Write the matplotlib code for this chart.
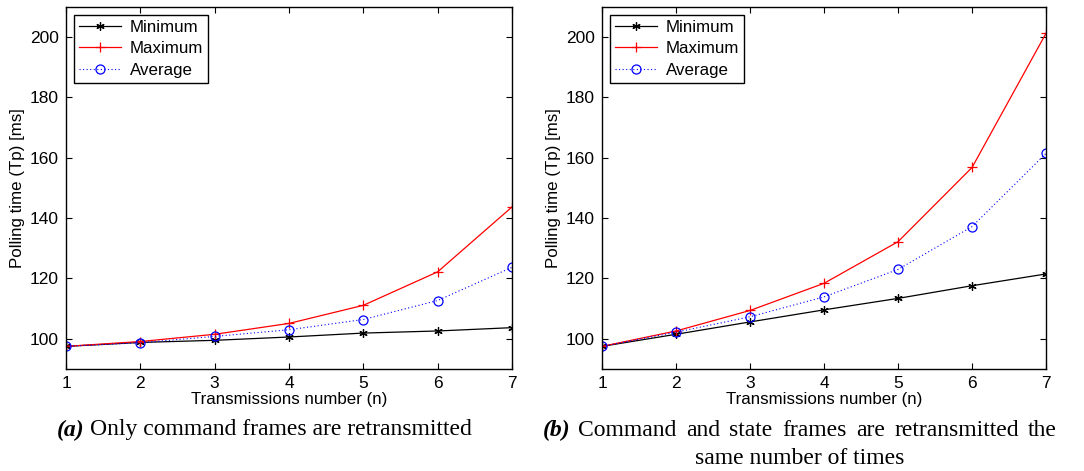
import matplotlib
matplotlib.use("Agg")
import matplotlib.pyplot as plt

# Datos
n = [1, 2, 3, 4, 5, 6, 7]

# (a) solo tramas de comando retransmitidas
min_a = [97.5, 98.8, 99.5, 100.6, 101.9, 102.6, 103.7]
max_a = [97.5, 99.1, 101.5, 105.1, 111.1, 122.2, 143.7]
avg_a = [97.5, 98.7, 100.8, 103.0, 106.4, 112.7, 123.7]

# (b) tramas de comando y de estado retransmitidas
min_b = [97.5, 101.5, 105.6, 109.6, 113.4, 117.6, 121.5]
max_b = [97.5, 102.6, 109.4, 118.4, 132.2, 156.8, 201.3]
avg_b = [97.5, 102.2, 107.3, 113.9, 123.0, 137.2, 161.5]

yticks = [100, 120, 140, 160, 180, 200]

plt.rcParams['font.family'] = ['Liberation Sans', 'DejaVu Sans']

fig = plt.figure(figsize=(10.84, 4.71), dpi=100)
ax1 = fig.add_axes([0.0609, 0.2166, 0.4114, 0.7686])
ax2 = fig.add_axes([0.5554, 0.2166, 0.4096, 0.7686])


def dibujar(ax, mn, mx, av):
    ax.plot(n, mn, color='black', lw=0.9, marker=(6, 2, 0), ms=6,
            mew=0.9, label='Minimum')
    ax.plot(n, mx, color='red', lw=0.9, marker='+', ms=6.5, mew=0.9,
            label='Maximum')
    ax.plot(n, av, color='blue', lw=0.8, ls=(0, (1, 2.2)), marker='o',
            ms=6.5, mfc='none', mec='blue', mew=0.9, label='Average')
    ax.set_xlim(1, 7)
    ax.set_ylim(90, 210)
    ax.set_xticks(n)
    ax.set_yticks(yticks)
    ax.tick_params(direction='in', top=True, right=True, length=4,
                   labelsize=12.5, pad=5)
    for s in ax.spines.values():
        s.set_linewidth(1.0)
    ax.set_xlabel('Transmissions number (n)', fontsize=12.2, labelpad=1)
    ax.set_ylabel('Polling time (Tp) [ms]', fontsize=12.2, labelpad=4)
    leg = ax.legend(loc='upper left', fontsize=12.2, fancybox=False,
                    framealpha=1, edgecolor='black', borderaxespad=0.45,
                    handlelength=2.5, handletextpad=0.5, labelspacing=0.38,
                    borderpad=0.3)
    leg.get_frame().set_linewidth(1.0)


dibujar(ax1, min_a, max_a, avg_a)
dibujar(ax2, min_b, max_b, avg_b)

W, H = fig.get_size_inches() * fig.dpi
serif = ['Liberation Serif', 'DejaVu Serif']
fs_cap = 17

# Leyenda (a)
fig.text(57 / W, 1 - 430 / H, '(a)', fontsize=fs_cap, family=serif,
         weight='bold', style='italic', ha='left', va='center')
fig.text(90 / W, 1 - 430 / H, 'Only command frames are retransmitted',
         fontsize=fs_cap, family=serif, ha='left', va='center')

# Leyenda (b), primera linea justificada entre x0 y x1
fig.text(543 / W, 1 - 430 / H, '(b)', fontsize=fs_cap, family=serif,
         weight='bold', style='italic', ha='left', va='center')
palabras = 'Command and state frames are retransmitted the'.split()
x0, x1 = 578, 1057
renderer = fig.canvas.get_renderer()
textos = [fig.text(0, 1 - 430 / H, p, fontsize=fs_cap, family=serif,
                   ha='left', va='center') for p in palabras]
anchos = [t.get_window_extent(renderer).width for t in textos]
hueco = (x1 - x0 - sum(anchos)) / (len(palabras) - 1)
x = x0
for t, a in zip(textos, anchos):
    t.set_x(x / W)
    x += a + hueco
fig.text(800 / W, 1 - 458 / H, 'same number of times', fontsize=fs_cap,
         family=serif, ha='center', va='center')

fig.savefig('out.png', dpi=100)
